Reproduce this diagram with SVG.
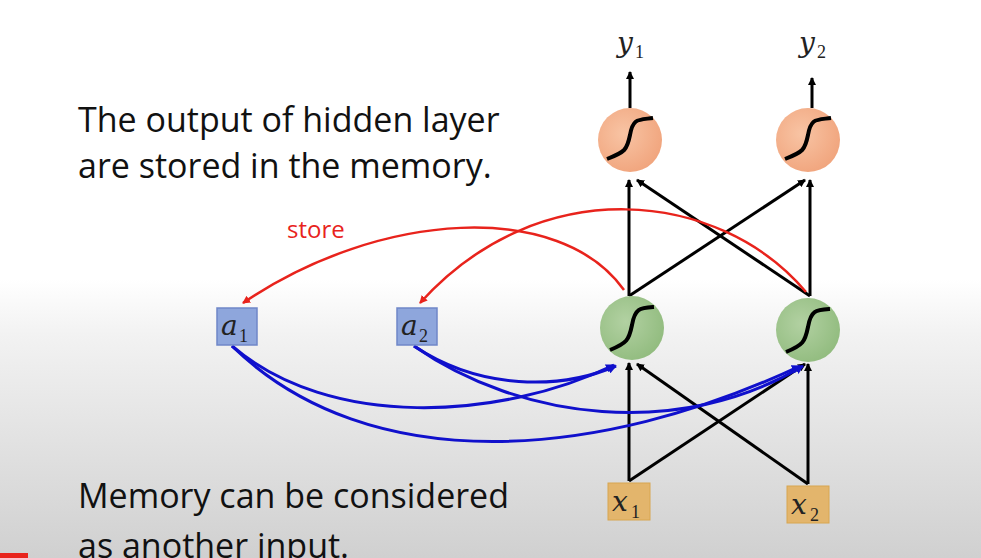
<svg xmlns="http://www.w3.org/2000/svg" width="981" height="558" viewBox="0 0 981 558">
<defs>
<linearGradient id="bg" x1="0" y1="0" x2="0" y2="1">
<stop offset="0" stop-color="#ffffff"/><stop offset="0.5" stop-color="#ffffff"/><stop offset="0.6" stop-color="#f2f2f2"/><stop offset="1" stop-color="#d0d0d0"/>
</linearGradient>
<marker id="ak" markerWidth="8" markerHeight="8" refX="7" refY="4" orient="auto" markerUnits="userSpaceOnUse"><path d="M0,0 L8,4 L0,8 Z" fill="#000"/></marker>
<marker id="ar" markerWidth="8" markerHeight="8" refX="7" refY="4" orient="auto" markerUnits="userSpaceOnUse"><path d="M0,0 L8,4 L0,8 Z" fill="#e8231c"/></marker>
<marker id="ab" markerWidth="9" markerHeight="9" refX="8" refY="4.5" orient="auto" markerUnits="userSpaceOnUse"><path d="M0,0 L9,4.5 L0,9 Z" fill="#1010cc"/></marker>
<radialGradient id="og" cx="0.4" cy="0.4" r="0.7"><stop offset="0" stop-color="#f8c4a4"/><stop offset="1" stop-color="#f0a27a"/></radialGradient>
<radialGradient id="gg" cx="0.4" cy="0.4" r="0.7"><stop offset="0" stop-color="#b2d1a2"/><stop offset="1" stop-color="#8fba7c"/></radialGradient>
</defs>
<style>
.t{font-family:"Open Sans","Liberation Sans",sans-serif;font-size:34px;fill:#111}
.m{font-family:"DejaVu Serif","Liberation Serif",serif;font-style:italic;font-size:28px;fill:#222}
.s{font-family:"Liberation Serif",serif;font-size:18px;fill:#222}
.k{stroke:#000;stroke-width:3;fill:none;marker-end:url(#ak)}
.r{stroke:#e8231c;stroke-width:2.5;fill:none;marker-end:url(#ar)}
.b{stroke:#1010cc;stroke-width:3;fill:none;marker-end:url(#ab)}
.sig{stroke:#000;stroke-width:4;fill:none}
.box{stroke:#6f86c8;stroke-width:1.5}
</style>
<rect width="981" height="558" fill="url(#bg)"/>
<rect x="0" y="553" width="28" height="5" fill="#e8231c"/>
<text class="t" x="78" y="132">The output of hidden layer</text>
<text class="t" x="78" y="178">are stored in the memory.</text>
<text class="t" x="78" y="508">Memory can be considered</text>
<text class="t" x="78" y="558">as  another input.</text>
<text x="287" y="238" font-family="Open Sans,Liberation Sans,sans-serif" font-size="24" fill="#e8231c">store</text>
<g id="connectors">
<path class="k" d="M630,108 V72"/><path class="k" d="M812,108 V78"/>
<path class="k" d="M629,296 V180"/><path class="k" d="M629,296 L805,180"/>
<path class="k" d="M810,296 V180"/><path class="k" d="M810,296 L637,180"/>
<path class="k" d="M629,481 V363"/><path class="k" d="M629,481 L805,364"/>
<path class="k" d="M808,484 V364"/><path class="k" d="M808,484 L637,364"/>
<path class="r" d="M624,290 C560,200 380,210 243,303"/>
<path class="r" d="M806,292 C720,190 540,170 420,303"/>
<path class="b" d="M232,346 C330,430 500,420 614,365"/>
<path class="b" d="M232,346 C370,480 600,460 800,366"/>
<path class="b" d="M414,346 C480,390 560,390 616,366"/>
<path class="b" d="M414,346 C520,420 680,440 803,366"/>
</g>
<g id="y1"><text class="m" x="617" y="52">y</text><text class="s" x="635" y="58">1</text></g>
<g id="y2"><text class="m" x="799" y="52">y</text><text class="s" x="817" y="58">2</text></g>
<g id="o1"><circle cx="630" cy="140" r="32" fill="url(#og)"/><path class="sig" d="M607,159 C625,152 627,150 630,135 C633,118 638,120 653,118"/></g>
<g id="o2"><circle cx="808" cy="140" r="32" fill="url(#og)"/><path class="sig" d="M785,159 C803,152 805,150 808,135 C811,118 816,120 831,118"/></g>
<g id="h1"><circle cx="632" cy="328" r="32" fill="url(#gg)"/><path class="sig" d="M610,350 C627,343 629,340 632,325 C635,308 640,308 654,307"/></g>
<g id="h2"><circle cx="808" cy="330" r="32" fill="url(#gg)"/><path class="sig" d="M786,352 C803,345 805,342 808,327 C811,310 816,310 830,309"/></g>
<g id="a1"><rect class="box" x="217" y="308" width="40" height="37" fill="#8ea6dc"/><text class="m" x="221" y="335">a</text><text class="s" x="239" y="342">1</text></g>
<g id="a2"><rect class="box" x="397" y="308" width="40" height="37" fill="#8ea6dc"/><text class="m" x="401" y="335">a</text><text class="s" x="419" y="342">2</text></g>
<g id="x1"><rect x="608" y="483" width="42" height="37" fill="#e3b56c" stroke="#d8a650"/><text class="m" x="612" y="511">x</text><text class="s" x="631" y="518">1</text></g>
<g id="x2"><rect x="787" y="486" width="42" height="37" fill="#e3b56c" stroke="#d8a650"/><text class="m" x="791" y="514">x</text><text class="s" x="810" y="521">2</text></g>
</svg>
